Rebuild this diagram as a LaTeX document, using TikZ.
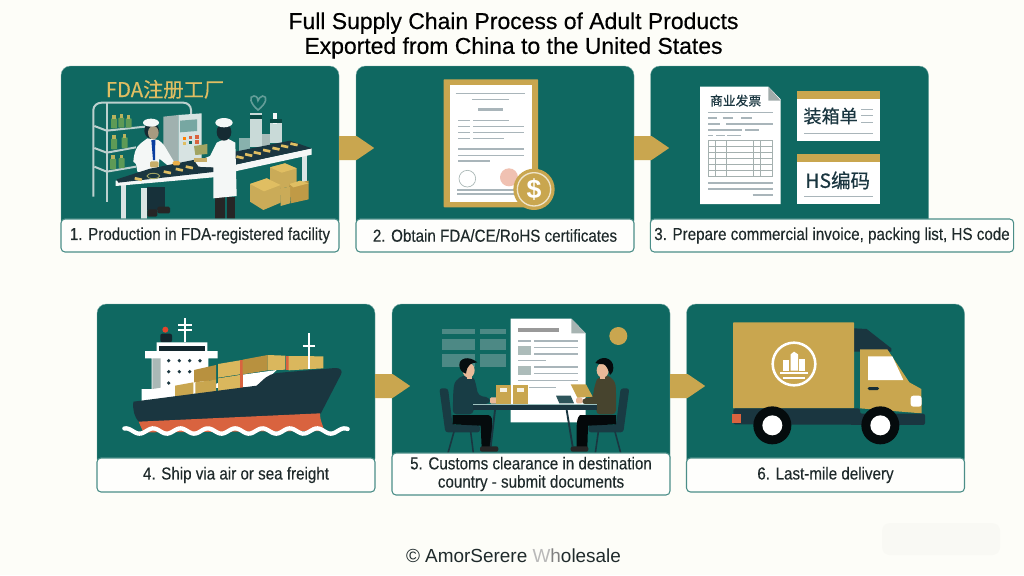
\documentclass[tikz,border=0pt]{standalone}
\usepackage{fontspec}
\setmainfont{Liberation Sans}
\newfontfamily\labf[FakeStretch=0.875,FakeBold=0.25]{Liberation Sans}
\newfontfamily\titf[FakeBold=0.45]{Liberation Sans}
\newfontfamily\cjk[FakeBold=0.5]{Noto Sans CJK SC}
\usetikzlibrary{calc}
\definecolor{pagebg}{HTML}{FDFDF8}
\definecolor{teal}{HTML}{0F6861}
\definecolor{gold}{HTML}{C9A64F}
\definecolor{goldl}{HTML}{E0BE62}
\definecolor{golddk}{HTML}{B8913F}
\definecolor{navy}{HTML}{1A3640}
\definecolor{ink}{HTML}{1F2A2B}
\definecolor{linegray}{HTML}{A9B5BA}
\definecolor{rust}{HTML}{D9633F}
\definecolor{frame}{HTML}{BCD0CE}
\definecolor{bottle}{HTML}{5E9A56}
\definecolor{coat}{HTML}{F4F7F6}
\definecolor{skin}{HTML}{E9B998}
\definecolor{skindk}{HTML}{A89A80}
\tikzset{
  cardbox/.style={fill=teal,draw=teal!55!white,line width=.3pt,rounded corners=7pt,minimum width=208.5pt,minimum height=123pt,inner sep=0pt,outer sep=0pt},
  labelbox/.style={fill=white!60!pagebg,draw=teal!75!white,line width=.8pt,rounded corners=3pt,inner sep=0pt,outer sep=0pt,text=ink,font=\labf\fontsize{13}{13.7}\selectfont,align=center,anchor=center},
  zoomview/.style={x=.25pt,y=-.25pt},
  ln/.style={draw=linegray,line width=.9pt},
  chev/.style={fill=gold},
}
\newcommand{\chevron}[1]{\fill[chev] ($(#1.east)+(0,9pt)$) -- ++(13.2pt,0) -- ++(13.2pt,-9pt) -- ++(-13.2pt,-9pt) -- ++(-13.2pt,0) -- cycle;}
\begin{document}
\begin{tikzpicture}[x=.75pt,y=-.75pt]
\useasboundingbox (0,0) rectangle (1024,575);
\fill[pagebg] (0,0) rectangle (1024,575);
\fill[black!1.5!pagebg,rounded corners=6pt] (882,523) rectangle (1000,555);

\node[font=\titf\fontsize{17.2}{18.6}\selectfont,text=black,align=center] (title) at (513.5,35.5) {Full Supply Chain Process of Adult Products\\Exported from China to the United States};

% cards
\node[cardbox] (c1) at (200,148) {};
\node[cardbox] (c2) at (495,148) {};
\node[cardbox] (c3) at (789.5,148) {};
\node[cardbox] (c4) at (236,386) {};
\node[cardbox] (c5) at (531,386) {};
\node[cardbox] (c6) at (825.5,386) {};

% ---------- card 1 ----------
\begin{scope}[shift={(50,60)},zoomview]
\node[font=\cjk\fontsize{15.2}{16}\selectfont,text=goldl] (t1) at (345,88) {FDA注册工厂};
% shelf
\draw[frame,line width=1.5pt,line join=round] (130,410) -- (130,150) to[out=90,in=180] (155,128) -- (400,128) to[out=0,in=90] (423,150) -- (423,178);
\draw[frame,line width=1.5pt] (170,128) -- (170,425);
\draw[frame,line width=1.5pt,line join=round] (133,198) -- (170,212) -- (285,200);
\draw[frame,line width=1.5pt,line join=round] (133,264) -- (170,278) -- (258,262);
\draw[frame,line width=1.5pt,line join=round] (133,320) -- (170,335) -- (258,320);
\foreach \x/\y/\h in {183/175/30,205/173/30,227/175/28,183/236/32,215/232/32,180/296/32,206/294/30}
  \fill[bottle,rounded corners=.5pt] (\x,\y) rectangle ++(18,\h);
\foreach \x/\y in {183/175,205/173,227/175,183/236,215/232,180/296,206/294}
  \fill[goldl!70!bottle] (\x+4,\y-10) rectangle ++(10,11);
% tanks
\fill[frame!70!teal] (567,235) rectangle (600,272);
\fill[frame!80!white] (600,160) rectangle (636,262);
\fill[frame!90!black] (636,222) rectangle (660,258);
\fill[frame!80!white] (660,190) rectangle (695,250);
\fill[white!85!frame] (670,158) rectangle (680,192);
\fill[teal!70!black] (600,166) rectangle (636,176);
\fill[teal!70!black] (660,178) -- (695,178) -- (695,190) -- (660,190) -- cycle;
\draw[teal!65!white,line width=1.2pt,fill=teal] (624,150) .. controls (600,130) and (596,108) .. (612,108) .. controls (622,108) and (624,118) .. (624,122) .. controls (626,118) and (630,108) .. (638,108) .. controls (654,108) and (650,130) .. (624,150) -- cycle;
% machine
\fill[frame!85!black] (340,170) -- (385,165) -- (385,310) -- (340,300) -- cycle;
\fill[frame!60!white] (385,165) -- (455,160) -- (455,300) -- (385,310) -- cycle;
\fill[teal!40!frame] (390,182) -- (441,178) -- (441,213) -- (390,217) -- cycle;
\foreach \x/\y/\c in {398/230/orange,416/228/rust,436/226/rust,398/245/goldl,416/243/teal,436/241/rust}
  \fill[\c] (\x,\y) rectangle ++(10,10);
% left worker (behind the belt)
\fill[navy!90!black] (292,380) rectangle (345,450);
\fill[black!85,rounded corners=1pt] (292,448) rectangle (322,470);
\fill[black!85,rounded corners=1pt] (322,440) rectangle (360,460);
\fill[coat] (250,305) .. controls (252,280) and (258,260) .. (272,250) -- (292,235) -- (325,240) .. controls (340,250) and (345,260) .. (352,272) -- (376,312) -- (360,322) -- (328,296) -- (325,346) -- (262,335) -- (258,312) -- cycle;
\fill[teal!60!blue] (304,240) -- (316,240) -- (315,300) -- (309,300) -- cycle;
\fill[navy!80!black] (305,212) ellipse (22 and 24);
\fill[skindk] (310,218) ellipse (16 and 20);
\fill[coat] (303,188) ellipse (24 and 12);
% table
\fill[frame!55!white] (214,375) rectangle (228,476);
\fill[frame!55!white] (274,385) rectangle (290,476);
\fill[frame!55!white] (755,280) rectangle (771,368);
\fill[coat] (197,362) -- (490,335) -- (560,313) -- (785,265) -- (785,284) -- (560,333) -- (490,352) -- (197,378) -- cycle;
\fill[navy] (200,358) -- (300,326) -- (720,242) -- (785,265) -- (560,313) -- (490,336) -- (205,368) -- cycle;
\foreach \x/\y in {265/357,352/337,388/329,418/322,570/292,596/285,622/279,650/272,678/266,704/259,732/253}
  \fill[goldl,rotate around={-12:(\x,\y)}] (\x-11,\y-4) rectangle (\x+11,\y+4);
\draw[goldl!70!teal,fill=navy,line width=.7pt] (310,348) ellipse (19 and 8);
\fill[goldl!75!gray,rounded corners=1pt] (300,304) rectangle (326,322);
\fill[goldl!75!orange,rounded corners=1pt] (368,303) rectangle (390,316);
% right worker
\fill[goldl!70!teal] (432,258) -- (472,252) -- (472,282) -- (436,285) -- cycle;
\fill[black!85] (496,412) rectangle (526,476);
\fill[black!85] (530,412) rectangle (555,476);
\fill[coat] (490,415) -- (490,322) -- (446,320) -- (436,306) -- (480,288) -- (500,248) -- (530,234) -- (556,248) -- (560,408) -- cycle;
\fill[navy!80!black] (522,216) ellipse (22 and 26);
\fill[coat] (522,188) ellipse (26 and 14);
\fill[goldl!75!gray] (432,294) rectangle (470,306);
% boxes
\fill[goldl!90!black] (660,322) -- (705,310) -- (740,325) -- (740,375) -- (695,385) -- (660,370) -- cycle;
\fill[goldl] (660,322) -- (705,310) -- (740,325) -- (695,338) -- cycle;
\fill[golddk!80!goldl] (718,372) -- (776,362) -- (776,418) -- (722,430) -- cycle;
\fill[goldl] (718,372) -- (750,362) -- (776,370) -- (730,382) -- cycle;
\fill[goldl!90!black] (690,385) -- (720,380) -- (720,430) -- (692,438) -- cycle;
\fill[goldl!90!black] (600,372) -- (650,355) -- (692,375) -- (692,428) -- (640,450) -- (600,425) -- cycle;
\fill[goldl] (600,372) -- (650,355) -- (692,375) -- (642,394) -- cycle;
\end{scope}
\node[labelbox,minimum width=208.5pt,minimum height=24.75pt] (l1) at (200,235.5) {1. Production in FDA-registered facility};

% ---------- card 2 ----------
\begin{scope}[shift={(340,60)},zoomview]
\fill[gold,rounded corners=.5pt] (311,58) rectangle (594,442);
\fill[white] (330,76) rectangle (576,425);
\foreach \a/\b/\y/\w in {347/555/100/.8pt,397/508/118/.8pt,414/490/148/2.4pt,354/391/181/1.2pt,399/507/181/1.2pt,354/391/200/1.2pt,399/551/200/1.2pt,354/391/218/1.2pt,399/551/218/1.2pt,354/391/236/1.2pt,399/492/236/1.2pt,354/551/267/1.2pt,354/551/286/1.2pt,354/449/303/1.2pt,352/530/390/.8pt,352/530/402/.8pt}
  \draw[linegray,line width=\w] (\a,\y) -- (\b,\y);
\draw[frame!70!gray,fill=white,line width=.5pt] (382,356) circle (25);
\fill[rust!40!white] (507,352) circle (27);
\fill[gold] (582,388) circle (62);
\draw[white!70!gold,line width=1pt] (582,388) circle (50);
\node[text=white,font=\bfseries\fontsize{20}{22}\selectfont] (dollar) at (582,388) {\$};
\end{scope}
\node[labelbox,minimum width=208.5pt,minimum height=24.75pt] (l2) at (495,235.5) {2. Obtain FDA/CE/RoHS certificates};

% ---------- card 3 ----------
\begin{scope}[shift={(640,60)},zoomview]
\fill[white] (180,80) -- (385,80) -- (422,118) -- (422,432) -- (180,432) -- cycle;
\fill[frame!55!gray] (385,80) -- (422,122) -- (385,122) -- cycle;
\node[text=navy,font=\cjk\fontsize{9.6}{10}\selectfont] (t3a) at (287,122) {商业发票};
\foreach \a/\b/\y in {205/398/157,205/230/174,248/280/174,303/335/174,205/240/192,258/398/192,205/305/210,315/358/210,205/218/226,228/255/226,262/302/226,205/398/369,205/398/387,338/398/405}
  \draw[ln,line width=.9pt] (\a,\y) -- (\b,\y);
\draw[frame!60!gray,line width=.6pt] (205,241) rectangle (398,348);
\foreach \y in {259,277,295,313,331} \draw[frame!60!gray,line width=.6pt] (205,\y) -- (398,\y);
\foreach \x in {225,260,340,362} \draw[frame!60!gray,line width=.6pt] (\x,241) -- (\x,348);
\fill[white] (470,93) rectangle (720,243);
\fill[gold] (470,93) rectangle (720,117);
\node[text=navy,font=\cjk\fontsize{13.6}{14}\selectfont] (t3b) at (572,168) {装箱单};
\foreach \y in {148,167,187} \draw[ln,line width=.7pt] (663,\y) -- (698,\y);
\draw[ln,line width=.9pt] (492,220) -- (698,220);
\fill[white] (470,282) rectangle (720,432);
\fill[gold] (470,282) rectangle (720,305);
\node[text=navy,font=\cjk\fontsize{14.6}{16}\selectfont] (t3c) at (593,361) {HS编码};
\draw[ln,line width=.9pt] (492,410) -- (698,410);
\end{scope}
\node[labelbox,minimum width=272.5pt,minimum height=24.75pt] (l3) at (832,235.5) {3. Prepare commercial invoice, packing list, HS code};

% ---------- card 4 ----------
\begin{scope}[shift={(90,295)},zoomview]
\draw[white,line width=1.8pt] (285,70) -- (285,142);
\draw[white,line width=1.4pt] (265,90) -- (305,90);
\draw[white,line width=1.4pt] (265,106) -- (305,106);
\fill[rust!70!red] (226,104) circle (9);
\fill[navy!70!black,rounded corners=1.5pt] (211,116) rectangle (246,142);
% superstructure
\fill[white] (200,142) -- (352,142) -- (352,168) -- (383,168) -- (383,190) -- (355,190) -- (355,290) -- (155,320) -- (155,282) -- (185,282) -- (185,190) -- (165,190) -- (165,168) -- (200,168) -- cycle;
\fill[frame!70!gray] (187,190) -- (212,190) -- (212,278) -- (187,282) -- cycle;
\fill[navy!70!black] (208,154) rectangle (344,168);
\foreach \x/\y in {236/197,268/197,299/197,330/197,236/230,268/230,299/230,236/264}
  \fill[navy] (\x,\y) circle (5.5);
% rear white deck
\fill[white] (340,280) -- (450,240) -- (560,225) -- (510,275) -- cycle;
% containers
\fill[gold] (255,272) -- (310,262) -- (310,300) -- (255,308) -- cycle;
\fill[golddk] (312,225) -- (378,210) -- (378,255) -- (312,262) -- cycle;
\fill[gold] (316,262) -- (378,254) -- (378,292) -- (316,298) -- cycle;
\fill[goldl!85!golddk] (384,207) -- (450,196) -- (450,238) -- (384,248) -- cycle;
\fill[goldl!85!golddk] (384,250) -- (450,240) -- (450,280) -- (384,290) -- cycle;
\fill[rust] (450,196) rectangle (458,282);
\fill[golddk] (458,194) -- (533,180) -- (533,226) -- (458,238) -- cycle;
\fill[goldl!85!golddk] (533,180) -- (586,182) -- (586,224) -- (533,226) -- cycle;
\fill[rust] (587,182) rectangle (596,226);
\fill[goldl!85!golddk] (596,183) -- (700,184) -- (700,220) -- (596,226) -- cycle;
\draw[white,line width=1.6pt] (656,115) -- (656,222);
\draw[white,line width=1.3pt] (638,152) -- (675,152);
% hull
\fill[navy] (130,320) -- (500,272) .. controls (525,250) and (530,240) .. (560,234) -- (735,219) .. controls (752,218) and (760,228) .. (752,240) -- (692,356) -- (148,382) .. controls (132,365) and (128,345) .. (130,320) -- cycle;
\fill[rust] (146,380) -- (690,355) .. controls (690,380) and (700,390) .. (702,408) -- (160,412) -- cycle;
\draw[white,line width=3.2pt,line cap=round] plot[domain=103:773,samples=120,smooth] (\x,{408+8*sin((\x-128)/82*360)});
\end{scope}
\node[labelbox,minimum width=208.5pt,minimum height=25.5pt] (l4) at (236,475) {4. Ship via air or sea freight};

% ---------- card 5 ----------
\begin{scope}[shift={(380,295)},zoomview]
\foreach \a/\b/\y/\h in {186/285/102/16,300/377/102/16,186/285/132/32,300/377/132/32,186/285/177/39,300/377/177/39}
  \fill[white!30!teal!85!gray,opacity=.8] (\a,\y) rectangle (\b,\y+\h);
\fill[white] (392,71) -- (574,71) -- (617,115) -- (617,382) -- (392,382) -- cycle;
\fill[frame!65!gray] (574,71) -- (617,115) -- (574,115) -- cycle;
\fill[gold] (715,123) circle (27);
\fill[gray!80] (415,98) rectangle (538,112);
\foreach \a/\b/\y in {415/452/138,463/594/138,463/594/157,463/594/177,415/498/197,463/594/216,463/594/236,415/594/256,447/527/277}
  \draw[linegray,line width=1.2pt] (\a,\y) -- (\b,\y);
\fill[frame!75!gray] (415,153) rectangle (452,180);
\fill[frame!75!gray] (415,213) rectangle (452,240);
% chairs
\fill[navy!90!teal,rounded corners=2pt] (178,280) -- (204,280) -- (218,390) -- (300,390) -- (300,412) -- (196,412) -- cycle;
\draw[navy,line width=1.2pt] (222,410) -- (204,474);
\draw[navy,line width=1.2pt] (272,410) -- (280,474);
\fill[navy!90!teal,rounded corners=2pt] (722,280) -- (748,280) -- (730,412) -- (625,412) -- (625,390) -- (708,390) -- cycle;
\draw[navy,line width=1.2pt] (655,410) -- (646,474);
\draw[navy,line width=1.2pt] (705,410) -- (722,474);
% left person
\fill[black!80!navy] (218,360) -- (325,360) .. controls (338,365) and (336,375) .. (336,385) -- (334,458) -- (305,458) -- (302,392) -- (218,388) -- cycle;
\fill[black!85,rounded corners=1.5pt] (300,454) rectangle (355,470);
\fill[navy!85!teal,rounded corners=3pt] (218,358) -- (220,285) .. controls (225,250) and (250,240) .. (270,245) .. controls (285,252) and (290,280) .. (295,302) -- (330,308) -- (330,326) -- (282,328) -- (280,358) -- cycle;
\fill[skin,rounded corners=1pt] (330,307) rectangle (353,326);
\fill[skin] (262,236) rectangle (276,252);
\fill[skin] (266,226) ellipse (18 and 22);
\fill[black!75!navy] (238,212) .. controls (236,190) and (265,180) .. (292,202) .. controls (275,204) and (262,206) .. (258,236) .. controls (246,232) and (240,226) .. (238,212) -- cycle;
% right person
\fill[black!85!navy] (708,360) -- (600,360) .. controls (590,370) and (592,380) .. (590,392) -- (590,458) -- (622,458) -- (624,392) -- (708,388) -- cycle;
\fill[black!85,rounded corners=1.5pt] (572,454) rectangle (625,470);
\fill[black!65!olive,rounded corners=3pt] (708,358) -- (708,285) .. controls (705,250) and (680,238) .. (662,245) .. controls (648,255) and (640,290) .. (640,308) -- (606,310) -- (606,328) -- (650,330) -- (648,358) -- cycle;
\fill[skin,rounded corners=1pt] (588,308) rectangle (608,325);
\fill[skin] (660,236) rectangle (674,252);
\fill[skin] (668,226) ellipse (18 and 22);
\fill[black!80!navy] (646,204) .. controls (660,180) and (700,185) .. (700,218) .. controls (700,230) and (695,236) .. (690,240) .. controls (685,225) and (680,212) .. (672,208) .. controls (662,208) and (652,206) .. (646,204) -- cycle;
\fill[gold] (572,268) -- (618,268) -- (638,305) -- (592,308) -- cycle;
% items on table
\fill[gold] (349,269) rectangle (393,326);
\fill[white!85!gold] (360,279) rectangle (382,290);
\fill[gold] (400,269) rectangle (444,326);
\fill[white!85!gold] (411,279) rectangle (433,290);
\fill[navy!75!teal!90!white] (528,302) -- (572,302) -- (582,325) -- (538,325) -- cycle;
% table
\fill[navy] (280,328) rectangle (650,345);
\draw[white!60!teal,line width=.4pt] (280,328) -- (650,328);
\draw[navy,line width=1.4pt] (345,345) -- (332,455);
\draw[navy,line width=1.4pt] (560,345) -- (578,455);
\end{scope}
\node[labelbox,minimum width=208.5pt,minimum height=31.5pt] (l5) at (531,474) {5. Customs clearance in destination\\country - submit documents};

% ---------- card 6 ----------
\begin{scope}[shift={(670,295)},zoomview]
\fill[navy] (552,100) -- (590,102) -- (664,160) -- (664,170) -- (552,170) -- cycle;
\fill[gold,rounded corners=.5pt] (189,82) rectangle (552,340);
\fill[gold] (570,163) -- (652,163) -- (718,262) -- (754,282) -- (755,355) -- (570,340) -- cycle;
\fill[white] (594,184) -- (667,184) -- (700,255) -- (594,255) -- cycle;
\fill[navy!85!black,rounded corners=1pt] (593,276) rectangle (627,285);
\fill[white,rounded corners=2pt] (722,302) -- (755,302) -- (755,335) -- (722,335) -- cycle;
\fill[navy,rounded corners=1.5pt] (190,340) -- (570,340) -- (570,356) -- (765,356) -- (765,390) -- (190,388) -- cycle;
\fill[rust] (185,357) rectangle (212,383);
\fill[black!80!navy] (307,391) circle (57);
\fill[white] (307,391) circle (30);
\fill[black!80!navy] (631,391) circle (57);
\fill[white] (631,391) circle (30);
\draw[white,line width=1.9pt] (372,207) circle (64);
\fill[white] (339,194) rectangle (358,227);
\fill[white] (362,178) -- (372,170) -- (384,178) -- (384,227) -- (362,227) -- cycle;
\fill[white] (388,192) rectangle (406,227);
\draw[white,line width=1.3pt] (330,234) -- (415,234);
\draw[white,line width=1.3pt] (338,248) -- (406,248);
\end{scope}
\node[labelbox,minimum width=208.5pt,minimum height=25.5pt] (l6) at (825.5,475) {6. Last-mile delivery};

% chevrons
\chevron{c1}
\chevron{c2}
\chevron{c4}
\chevron{c5}

\node[font=\fontsize{14.2}{16}\selectfont,text=ink] (foot) at (513.5,556) {© AmorSerere {\color{gray!55}W}{\color{gray}h}olesale};
\end{tikzpicture}
\end{document}
